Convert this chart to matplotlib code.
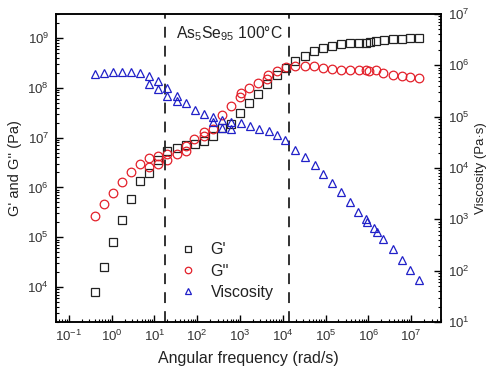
import matplotlib
matplotlib.use('Agg')
import matplotlib.pyplot as plt
from matplotlib.ticker import LogLocator, NullFormatter

plt.rcParams['font.family'] = ['Liberation Sans', 'DejaVu Sans']
plt.rcParams['mathtext.default'] = 'regular'
plt.rcParams['axes.unicode_minus'] = False

# storage modulus G' (Pa)
freq_g1 = [0.41, 0.66, 1.07, 1.75, 2.84, 4.6, 7.6, 12.3, 19.9, 33, 55, 89, 145, 235,
           376, 605, 1010, 1640, 2600, 4230, 7270, 12200, 19800, 32700, 53700, 87300,
           142000, 231000, 372000, 605000, 869000, 1.08e6, 1.53e6, 2.34e6, 3.68e6,
           5.99e6, 9.6e6, 1.55e7]
g1 = [7.9e3, 2.58e4, 8.05e4, 2.25e5, 5.86e5, 1.36e6, 1.9e6, 3.54e6, 5.36e6, 6.17e6,
      6.98e6, 7.41e6, 8.63e6, 1.09e7, 1.53e7, 1.87e7, 3.05e7, 5.03e7, 7.44e7, 1.18e8,
      1.79e8, 2.53e8, 3.49e8, 4.4e8, 5.41e8, 6.13e8, 6.82e8, 7.38e8, 7.73e8, 8.0e8,
      8.0e8, 8.4e8, 8.8e8, 8.9e8, 9.3e8, 9.4e8, 9.8e8, 1.01e9]

# loss modulus G'' (Pa)
freq_g2 = [0.41, 0.66, 1.07, 1.75, 2.84, 4.6, 7.5, 7.5, 12.3, 12.3, 19.9, 19.9, 33,
           53.7, 53.7, 86.4, 141, 141, 229, 376, 611, 1010, 1070, 1600, 2600, 4230,
           4590, 7270, 11950, 19800, 32700, 53700, 87300, 142000, 234000, 372000,
           605000, 869000, 1.02e6, 1.53e6, 2.24e6, 3.68e6, 5.99e6, 9.6e6, 1.55e7]
g2 = [2.67e5, 4.58e5, 7.83e5, 1.26e6, 2.01e6, 2.9e6, 3.83e6, 2.62e6, 4.26e6, 2.88e6,
      3.54e6, 4.67e6, 4.78e6, 6.76e6, 5.44e6, 9.2e6, 1.32e7, 1.05e7, 1.45e7, 2.82e7,
      4.28e7, 6.57e7, 7.8e7, 9.7e7, 1.26e8, 1.49e8, 1.79e8, 2.18e8, 2.55e8, 2.75e8,
      2.74e8, 2.67e8, 2.51e8, 2.36e8, 2.27e8, 2.27e8, 2.22e8, 2.25e8, 2.18e8, 2.25e8,
      2.01e8, 1.79e8, 1.71e8, 1.65e8, 1.54e8]

# complex viscosity (Pa s)
freq_eta = [0.41, 0.67, 1.08, 1.76, 2.84, 4.6, 7.5, 7.6, 12.2, 12.3, 19.9, 20.0, 33,
            33.6, 55, 89, 142, 229, 231, 376, 376, 611, 605, 1070, 1740, 2780, 4670,
            7350, 11500, 19800, 32700, 55200, 88300, 144000, 225000, 372000, 586000,
            869000, 953000, 1.36e6, 1.57e6, 2.26e6, 3.68e6, 5.99e6, 9.5e6, 1.55e7]
eta = [6.76e5, 6.98e5, 7.33e5, 7.5e5, 7.5e5, 7.24e5, 6.24e5, 4.38e5, 5.01e5, 3.42e5,
       3.61e5, 2.58e5, 2.5e5, 2.0e5, 1.82e5, 1.36e5, 1.11e5, 9.73e4, 7.78e4, 8.7e4,
       6.13e4, 8.02e4, 5.78e4, 7.5e4, 6.47e4, 5.65e4, 5.24e4, 4.38e4, 3.5e4, 2.2e4,
       1.63e4, 1.14e4, 7.6e3, 5.14e3, 3.34e3, 2.13e3, 1.4e3, 995, 893, 665, 570, 405,
       259, 165, 102, 65]

dash_freq = [18, 1.4e4]
title_txt = 'As$_5$Se$_{95}$ 100\u00b0C'
x_ticks = [1e-1, 1e0, 1e1, 1e2, 1e3, 1e4, 1e5, 1e6, 1e7]
g_ticks = [1e4, 1e5, 1e6, 1e7, 1e8, 1e9]
eta_ticks = [1e1, 1e2, 1e3, 1e4, 1e5, 1e6, 1e7]

fig = plt.figure(figsize=(4.9, 3.76), dpi=100)
ax = fig.add_axes([0.1143, 0.1436, 0.7857, 0.8192])
ax2 = ax.twinx()

red = '#e3202a'
blue = '#2020c8'
ms = 5.6
l1, = ax.plot(freq_g1, g1, 's', ms=ms, mfc='none', mec='#222222', mew=0.9, label="G'")
l2, = ax.plot(freq_g2, g2, 'o', ms=ms + 0.6, mfc='none', mec=red, mew=0.9, label="G''")
l3, = ax2.plot(freq_eta, eta, '^', ms=ms + 0.6, mfc='none', mec=blue, mew=0.9,
               label='Viscosity')

for f in dash_freq:
    ax.axvline(f, color='#222222', lw=1.3, ls=(0, (6, 4.5)))

ax.set_xscale('log')
ax.set_yscale('log')
ax2.set_yscale('log')
ax.set_xlim(0.05, 5e7)
ax.set_ylim(2.0e3, 3.0e9)
ax2.set_ylim(10, 1e7)
ax.set_xticks(x_ticks)
ax.set_yticks(g_ticks)
ax2.set_yticks(eta_ticks)

for a in (ax, ax2):
    a.xaxis.set_minor_locator(LogLocator(base=10, subs=range(2, 10), numticks=20))
    a.xaxis.set_minor_formatter(NullFormatter())
    a.yaxis.set_minor_locator(LogLocator(base=10, subs=range(2, 10), numticks=20))
    a.yaxis.set_minor_formatter(NullFormatter())
    a.tick_params(which='major', direction='in', length=5, width=1, labelsize=9.5,
                  pad=5, labelcolor='#333333')
    a.tick_params(which='minor', direction='in', length=2.5, width=0.8)
    for s in a.spines.values():
        s.set_linewidth(1.1)
ax.set_xlim(0.05, 5e7)
ax.set_ylim(2.0e3, 3.0e9)
ax2.set_ylim(10, 1e7)
ax.tick_params(axis='both', top=False, right=False)
ax.tick_params(axis='both', which='minor', top=False, right=False)

ax.set_xlabel('Angular frequency (rad/s)', fontsize=11.5, labelpad=5, color='#222222')
ax.set_ylabel("G' and G'' (Pa)", fontsize=10.5, labelpad=4, color='#222222')
ax2.set_ylabel('Viscosity (Pa\u00b7s)', fontsize=9.5, labelpad=4, color='#222222')

ax.text(0.312, 0.935, title_txt, transform=ax.transAxes, fontsize=11.3,
        ha='left', va='center', color='#222222')

ax.legend(handles=[l1, l2, l3], loc='center left', bbox_to_anchor=(0.285, 0.165),
          frameon=False, fontsize=11.5, markerscale=0.75, handlelength=1.0,
          handletextpad=0.9, labelspacing=0.4, labelcolor='#222222')

fig.savefig('out.png', dpi=100)
